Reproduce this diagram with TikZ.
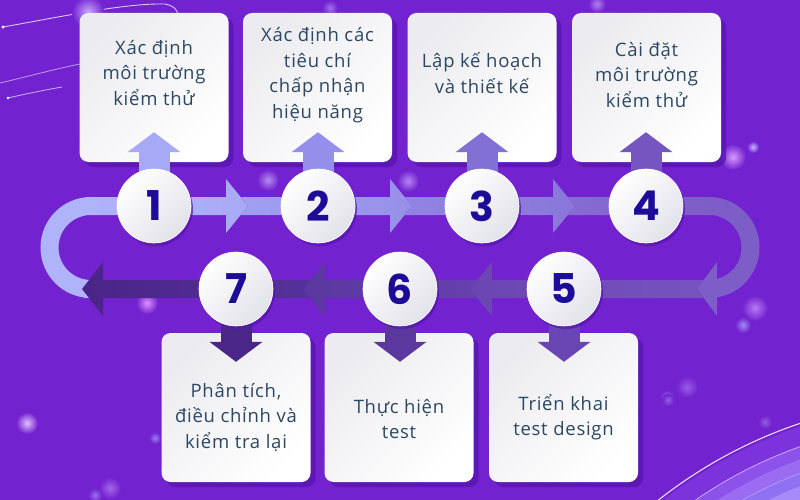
\documentclass[tikz,border=0pt]{standalone}
\usepackage{fontspec}
\setmainfont{Open Sans}[LetterSpace=4]
\newfontfamily\numfont{Poppins}
\usetikzlibrary{calc,arrows.meta,shadows}
\pgfdeclarelayer{bg}\pgfdeclarelayer{mid}\pgfsetlayers{bg,mid,main}
\definecolor{bgc}{HTML}{7222CE}
\definecolor{shc}{HTML}{5514AE}
\definecolor{boxtop}{HTML}{ECECF0}
\definecolor{balbot}{HTML}{E2E2EA}
\definecolor{txtc}{HTML}{2B4764}
\definecolor{numc}{HTML}{1D0C98}
\definecolor{s1a}{HTML}{AEB3FA}\definecolor{s1b}{HTML}{A9AAF6}
\definecolor{s2a}{HTML}{A09FF0}\definecolor{s2b}{HTML}{9790E9}
\definecolor{s3a}{HTML}{9284E3}\definecolor{s3b}{HTML}{8977DA}
\definecolor{s4a}{HTML}{866CD3}\definecolor{s4b}{HTML}{7D5DC6}
\definecolor{s5a}{HTML}{6B46B3}\definecolor{s5b}{HTML}{7753BE}
\definecolor{s6a}{HTML}{5B37A0}\definecolor{s6b}{HTML}{6640AC}
\definecolor{s7a}{HTML}{4A2487}\definecolor{s7b}{HTML}{55319B}
\definecolor{a1}{HTML}{A6A9F6}\definecolor{a2}{HTML}{958EEA}
\definecolor{a3}{HTML}{8370D5}\definecolor{a4}{HTML}{7556C0}
\definecolor{a5}{HTML}{6946B3}\definecolor{a6}{HTML}{5B389E}
\definecolor{a7}{HTML}{4B2689}
\definecolor{p1}{HTML}{7D33DC}\definecolor{p2}{HTML}{8C52EA}
\definecolor{p3}{HTML}{9A6CF2}\definecolor{p4}{HTML}{8F72F2}
\definecolor{p5}{HTML}{A68AF8}
\begin{document}
\begin{tikzpicture}[x=1pt,y=-1pt,
  box/.style={rounded corners=9pt, minimum width=149pt, minimum height=149pt, inner sep=0pt,
    top color=boxtop, bottom color=white, shading angle=45,
    drop shadow={shadow xshift=5pt, shadow yshift=-5pt, fill=shc, opacity=.75}},
  txt/.style={align=center, text=txtc, font=\fontsize{18.5}{25.5}\selectfont, inner sep=0pt},
  ball/.style={circle, minimum size=74pt, inner sep=0pt, top color=white, bottom color=balbot,
    shading angle=45, draw=white, line width=0.6pt,
    drop shadow={shadow xshift=2pt, shadow yshift=-3pt, fill=shc, opacity=.7},
    font=\numfont\bfseries\fontsize{41}{41}\selectfont, text=numc},
  upar/.style={line width=31pt, -{Triangle[length=20pt,width=52pt]}},
  glow/.style={outer color=bgc},
  swoosh/.style={white, opacity=.75, line width=0.9pt},
]
\useasboundingbox (0,0) rectangle (800,500);
\begin{pgfonlayer}{bg}
  \fill[bgc] (0,0) rectangle (800,500);
  % decorations
  \begin{scope}
    \clip (0,0) rectangle (800,500);
    \fill[p1] (950,870) circle (468);
    \fill[p2] (950,870) circle (449);
    \draw[white, opacity=.55, line width=.8pt] (950,870) circle (449);
    \fill[p3] (950,870) circle (437);
    \fill[p4] (950,870) circle (424);
    \fill[p5] (950,870) circle (412);
    \draw[white, opacity=.35, line width=.6pt] (950,870) circle (424);
    \draw[white, opacity=.85, line width=1.1pt] (950,870) circle (471);
  \end{scope}
  \draw[swoosh] (3,27) .. controls (60,17) and (125,3) .. (165,4) .. controls (172,5) and (177,9) .. (178,14);
  \draw[swoosh, opacity=.5] (0,83) .. controls (30,76) and (55,69) .. (80,64);
  \draw[swoosh, opacity=.6] (8,98) .. controls (25,94) and (45,90) .. (62,87);
  \fill[white] (3,27) circle (1.6);
  \fill[white] (8,98) circle (1.4);
  \foreach \x/\y/\r/\c in {88/12/16/C9A8FF, 268/180/11/B48CF2, 408/181/11/B684F2, 147/303/11/E090FF,
      27/423/11/E0C0FF, 110/488/11/A468EC, 95/495/7/9A70F0, 155/438/6/9A80F0, 755/308/13/B878F4,
      743/325/8/A08CF4, 687/387/11/9A5CE6, 667/397/7/9078E8, 733/157/13/D898FF, 753/147/6/C8B8FF,
      597/4/9/B080F0, 765/422/7/9060E0, 668/400/6/9060E0, 330/8/8/A070EC}
    {\definecolor{gc}{HTML}{\c}
     \shade[glow, inner color=gc] (\x,\y) circle (\r);}
  % boxes
  \node[box] (b1) at (154,87.5) {};
  \node[box] (b2) at (317.5,87.5) {};
  \node[box] (b3) at (482,87.5) {};
  \node[box] (b4) at (646.5,87.5) {};
  \node[box] (b7) at (236,407.5) {};
  \node[box] (b6) at (399,407.5) {};
  \node[box] (b5) at (563.5,407.5) {};
  \node[txt] (t1) at (154,73) {Xác định\\môi trường\\kiểm thử};
  \node[txt] (t2) at (317.5,75) {Xác định các\\tiêu chí\\chấp nhận\\hiệu năng};
  \node[txt] (t3) at (482,73) {Lập kế hoạch\\và thiết kế};
  \node[txt] (t4) at (646.5,75) {Cài đặt\\môi trường\\kiểm thử};
  \node[txt] (t7) at (236,417) {Phân tích,\\điều chỉnh và\\kiểm tra lại};
  \node[txt] (t6) at (399,419) {Thực hiện\\test};
  \node[txt] (t5) at (563.5,417) {Triển khai\\test design};
\end{pgfonlayer}
% circles
\node[ball] (c1) at (154,206) {1};
\node[ball] (c2) at (318,206) {2};
\node[ball] (c3) at (482,206) {3};
\node[ball] (c4) at (646,206) {4};
\node[ball] (c5) at (564,289) {5};
\node[ball] (c6) at (400,289) {6};
\node[ball] (c7) at (236,289) {7};
\begin{pgfonlayer}{mid}
  % left loop
  \draw[line width=18pt, s1a] (91,206) arc[start angle=270, end angle=90, radius=41.5] -- (84,289);
  % top row
  \shade[left color=s1a, right color=s1b] (90,197) -- (226,197) -- (226,179) -- (248,206) -- (226,233) -- (226,215) -- (90,215) -- cycle;
  \shade[left color=s2a, right color=s2b] (241,197) -- (390,197) -- (390,179) -- (412,206) -- (390,233) -- (390,215) -- (241,215) -- (248,206) -- cycle;
  \shade[left color=s3a, right color=s3b] (405,197) -- (553,197) -- (553,179) -- (575,206) -- (553,233) -- (553,215) -- (405,215) -- (412,206) -- cycle;
  \shade[left color=s4a, right color=s4b] (568,197) -- (710,197) -- (710,215) -- (568,215) -- (575,206) -- cycle;
  % right loop
  \draw[line width=18pt, s4b] (709,206) arc[start angle=270, end angle=450, radius=41.5] -- (716,289);
  \fill[s4b] (717,262) -- (697,289) -- (717,316) -- cycle;
  % bottom row
  \shade[left color=s5a, right color=s5b] (704,280) -- (492,280) -- (492,262) -- (470,289) -- (492,316) -- (492,298) -- (704,298) -- (697,289) -- cycle;
  \shade[left color=s6a, right color=s6b] (477,280) -- (325,280) -- (325,262) -- (303,289) -- (325,316) -- (325,298) -- (477,298) -- (470,289) -- cycle;
  \shade[left color=s7a, right color=s7b] (310,280) -- (103,280) -- (103,262) -- (82,289) -- (103,316) -- (103,298) -- (310,298) -- (303,289) -- cycle;
  % vertical arrows
  \draw[upar, a1] (c1.center) -- ($(c1 |- b1.south)+(0,-30)$);
  \draw[upar, a2] (c2.center) -- ($(c2 |- b2.south)+(0,-30)$);
  \draw[upar, a3] (c3.center) -- ($(c3 |- b3.south)+(0,-30)$);
  \draw[upar, a4] (c4.center) -- ($(c4 |- b4.south)+(0,-30)$);
  \draw[upar, a5] (c5.center) -- ($(c5 |- b5.north)+(0,29)$);
  \draw[upar, a6] (c6.center) -- ($(c6 |- b6.north)+(0,29)$);
  \draw[upar, a7] (c7.center) -- ($(c7 |- b7.north)+(0,29)$);
\end{pgfonlayer}
\end{tikzpicture}
\end{document}
